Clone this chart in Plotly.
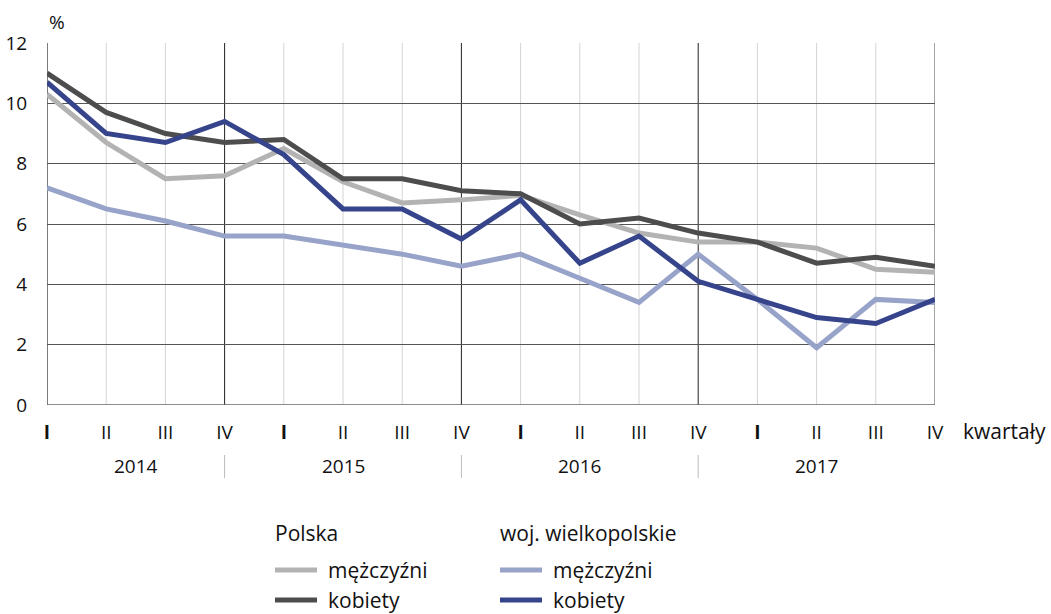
import plotly.graph_objects as go

quarters = ["<b>I</b>", "II", "III", "IV"] * 4
years = ["2014", "2015", "2016", "2017"]
x_idx = list(range(16))

pl_men = [10.3, 8.7, 7.5, 7.6, 8.5, 7.4, 6.7, 6.8, 6.95, 6.3, 5.7, 5.4, 5.4, 5.2, 4.5, 4.4]
pl_women = [11.0, 9.7, 9.0, 8.7, 8.8, 7.5, 7.5, 7.1, 7.0, 6.0, 6.2, 5.7, 5.4, 4.7, 4.9, 4.6]
wlkp_men = [7.2, 6.5, 6.1, 5.6, 5.6, 5.3, 5.0, 4.6, 5.0, 4.2, 3.4, 5.0, 3.5, 1.9, 3.5, 3.4]
wlkp_women = [10.7, 9.0, 8.7, 9.4, 8.3, 6.5, 6.5, 5.5, 6.8, 4.7, 5.6, 4.1, 3.5, 2.9, 2.7, 3.5]

groups = ["Polska", "woj. wielkopolskie"]
labels = ["mężczyźni", "kobiety"]
series = [
    (0, 0, pl_men, "#b3b3b3"),
    (0, 1, pl_women, "#4d4d4d"),
    (1, 0, wlkp_men, "#97a3c8"),
    (1, 1, wlkp_women, "#36448c"),
]

FONT = "Open Sans"
fig = go.Figure()
for g, l, vals, col in series:
    fig.add_trace(go.Scatter(x=x_idx, y=vals, mode="lines",
                             line=dict(color=col, width=5),
                             name=f"{groups[g]} – {labels[l]}",
                             cliponaxis=False, showlegend=False))

shapes = []
for i in x_idx:
    if i in (3, 7, 11):
        col = "#222222"
    elif i in (0, 15):
        continue
    else:
        col = "#d4d4d4"
    shapes.append(dict(type="line", xref="x", yref="y", x0=i, x1=i, y0=0, y1=12,
                       line=dict(color=col, width=1), layer="below"))
shapes.append(dict(type="line", xref="x", yref="y", x0=0, x1=0, y0=0, y1=12,
                   line=dict(color="#222222", width=1.2), layer="below"))
shapes.append(dict(type="line", xref="x", yref="y", x0=15, x1=15, y0=0, y1=12,
                   line=dict(color="#666666", width=1.2), layer="below"))
shapes.append(dict(type="line", xref="x", yref="y", x0=0, x1=15, y0=0, y1=0,
                   line=dict(color="#666666", width=1.5), layer="below"))

L, R, T, B = 47, 935, 43, 405
def px(xp):
    return (xp - L) / (R - L)
def py(yp):
    return (B - yp) / (B - T)

annotations = []
year_pos = [1.5, 5, 9, 13]
for yr, xp in zip(years, year_pos):
    annotations.append(dict(x=xp, y=py(466), xref="x", yref="paper", text=yr,
                            yanchor="middle", showarrow=False,
                            font=dict(size=19, color="#111111", family=FONT)))
for sep in (3, 7, 11):
    shapes.append(dict(type="line", xref="x", yref="paper", x0=sep, x1=sep,
                       y0=py(455), y1=py(478), line=dict(color="#bbbbbb", width=1)))

annotations.append(dict(x=px(961), y=py(431), xref="paper", yref="paper", xanchor="left",
                        yanchor="middle", text="kwartały", showarrow=False,
                        font=dict(size=21, color="#111111", family=FONT)))
annotations.append(dict(x=px(47), y=py(22), xref="paper", yref="paper", xanchor="left",
                        yanchor="middle", text="%", showarrow=False,
                        font=dict(size=19, color="#111111", family=FONT)))

col_x = [275, 500]
for g, name in enumerate(groups):
    annotations.append(dict(x=px(col_x[g] - 2), y=py(533), xref="paper", yref="paper",
                            xanchor="left", yanchor="middle", text=name, showarrow=False,
                            font=dict(size=21, color="#111111", family=FONT)))
row_y = [570, 600]
for g, l, vals, col in series:
    x0 = col_x[g]
    yy = py(row_y[l])
    shapes.append(dict(type="line", xref="paper", yref="paper", x0=px(x0), x1=px(x0 + 42),
                       y0=yy, y1=yy, line=dict(color=col, width=5)))
    annotations.append(dict(x=px(x0 + 51), y=yy, xref="paper", yref="paper",
                            xanchor="left", yanchor="middle", text=labels[l], showarrow=False,
                            font=dict(size=21, color="#111111", family=FONT)))

W, H = 1051, 614
fig.update_layout(
    width=W, height=H,
    margin=dict(l=L, r=W - R, t=T, b=H - B, autoexpand=False),
    paper_bgcolor="white", plot_bgcolor="white",
    font=dict(family=FONT, size=18, color="#111111"),
    xaxis=dict(range=[0, 15], tickmode="array", tickvals=x_idx, ticktext=quarters,
               showgrid=False, zeroline=False, showline=False, automargin=False,
               ticks="outside", ticklen=10, tickcolor="rgba(0,0,0,0)",
               tickfont=dict(size=19, family=FONT)),
    yaxis=dict(range=[0, 12], tickvals=[0, 2, 4, 6, 8, 10, 12], automargin=False,
               showgrid=True, gridcolor="#555555", gridwidth=1, zeroline=False,
               showline=False, ticks="outside", ticklen=15, tickcolor="rgba(0,0,0,0)",
               tickfont=dict(size=19, family=FONT)),
    shapes=shapes, annotations=annotations,
    showlegend=False,
)

fig.write_html("out.html", config={"displayModeBar": False},
               post_script="document.body.style.margin='0';document.body.style.overflow='hidden';")
